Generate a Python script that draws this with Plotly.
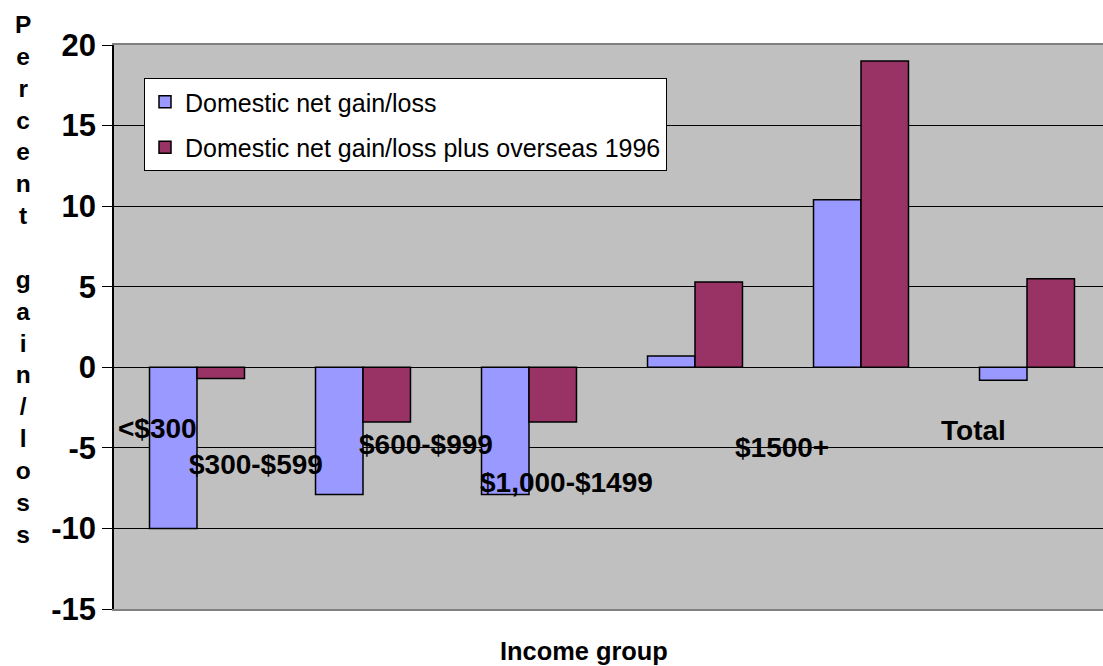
import plotly.graph_objects as go

# Income groups and the two series (percent gain/loss)
income_groups = ["<$300", "$300-$599", "$600-$999", "$1,000-$1499", "$1500+", "Total"]
domestic = [-10.0, -7.9, -7.9, 0.7, 10.4, -0.8]
domestic_plus_overseas = [-0.7, -3.4, -3.4, 5.3, 19.0, 5.5]

series_names = ["Domestic net gain/loss", "Domestic net gain/loss plus overseas 1996"]
y_ticks = [-15, -10, -5, 0, 5, 10, 15, 20]

FONT = "Liberation Sans, Arial, sans-serif"

W, H = 1103, 666
L, T, B = 114, 45, 57            # margins in px (plot runs to the right edge)
plot_w = W - L
plot_h = H - T - B
cat_px = 166                      # width of one category band

# staggered placement of the group labels inside the plot (px offsets / y values)
label_xshift = [-40, -107, -103, -129, -79, -54]
label_y = [-3.77, -6.06, -4.82, -7.18, -4.95, -3.95]

fig = go.Figure()
fig.add_trace(go.Bar(
    x=income_groups, y=domestic, name=series_names[0], legendgroup="a",
    marker=dict(color="#9999FF", line=dict(color="black", width=1.5)),
))
fig.add_trace(go.Bar(
    x=income_groups, y=domestic_plus_overseas, name=series_names[1], legendgroup="b",
    marker=dict(color="#993366", line=dict(color="black", width=1.5)),
))

annotations = []
for g, dx, yy in zip(income_groups, label_xshift, label_y):
    annotations.append(dict(
        x=g, y=yy, xref="x", yref="y", xshift=dx, text=g, showarrow=False,
        font=dict(family=FONT, size=28, color="black", weight="bold"),
        xanchor="center", yanchor="middle",
    ))

# vertical, letter-stacked y-axis title
annotations.append(dict(
    x=(23 - L) / plot_w, y=(H - B - 279) / plot_h, xref="paper", yref="paper",
    text="<br>".join(list("Percent gain/loss")),
    showarrow=False, align="center", xanchor="center", yanchor="middle",
    font=dict(family=FONT, size=24.5, color="black", weight="bold"),
))

# x-axis title
annotations.append(dict(
    x=(584 - L) / plot_w, y=(H - B - 651) / plot_h, xref="paper", yref="paper",
    text="Income group", showarrow=False, xanchor="center", yanchor="middle",
    font=dict(family=FONT, size=25.4, color="black", weight="bold"),
))

n_visible = plot_w / cat_px
fig.update_layout(
    width=W, height=H,
    margin=dict(l=L, r=0, t=T, b=B, pad=0),
    paper_bgcolor="white", plot_bgcolor="#C0C0C0",
    barmode="group", bargap=0.428, bargroupgap=0,
    showlegend=True,
    legend=dict(
        x=(144 - L) / plot_w, y=(H - B - 78) / plot_h, xanchor="left", yanchor="top",
        bgcolor="white", bordercolor="black", borderwidth=1,
        font=dict(family=FONT, size=25, color="black"),
        traceorder="grouped", tracegroupgap=10,
    ),
    xaxis=dict(
        range=[-0.5, n_visible - 0.5], showticklabels=False, ticks="",
        showgrid=False, zeroline=False,
        showline=True, linecolor="#808080", linewidth=1.5, mirror=True,
        fixedrange=True,
    ),
    yaxis=dict(
        range=[-15, 20], tickvals=y_ticks, ticktext=[str(v) for v in y_ticks],
        ticks="outside", ticklen=10, tickcolor="black", tickwidth=1,
        tickfont=dict(family=FONT, size=31, color="black", weight="bold"),
        showgrid=True, gridcolor="black", gridwidth=1,
        zeroline=True, zerolinecolor="black", zerolinewidth=1,
        showline=True, linecolor="black", linewidth=1.5,
        fixedrange=True,
    ),
    annotations=annotations,
)

fig.write_html("out.html")
